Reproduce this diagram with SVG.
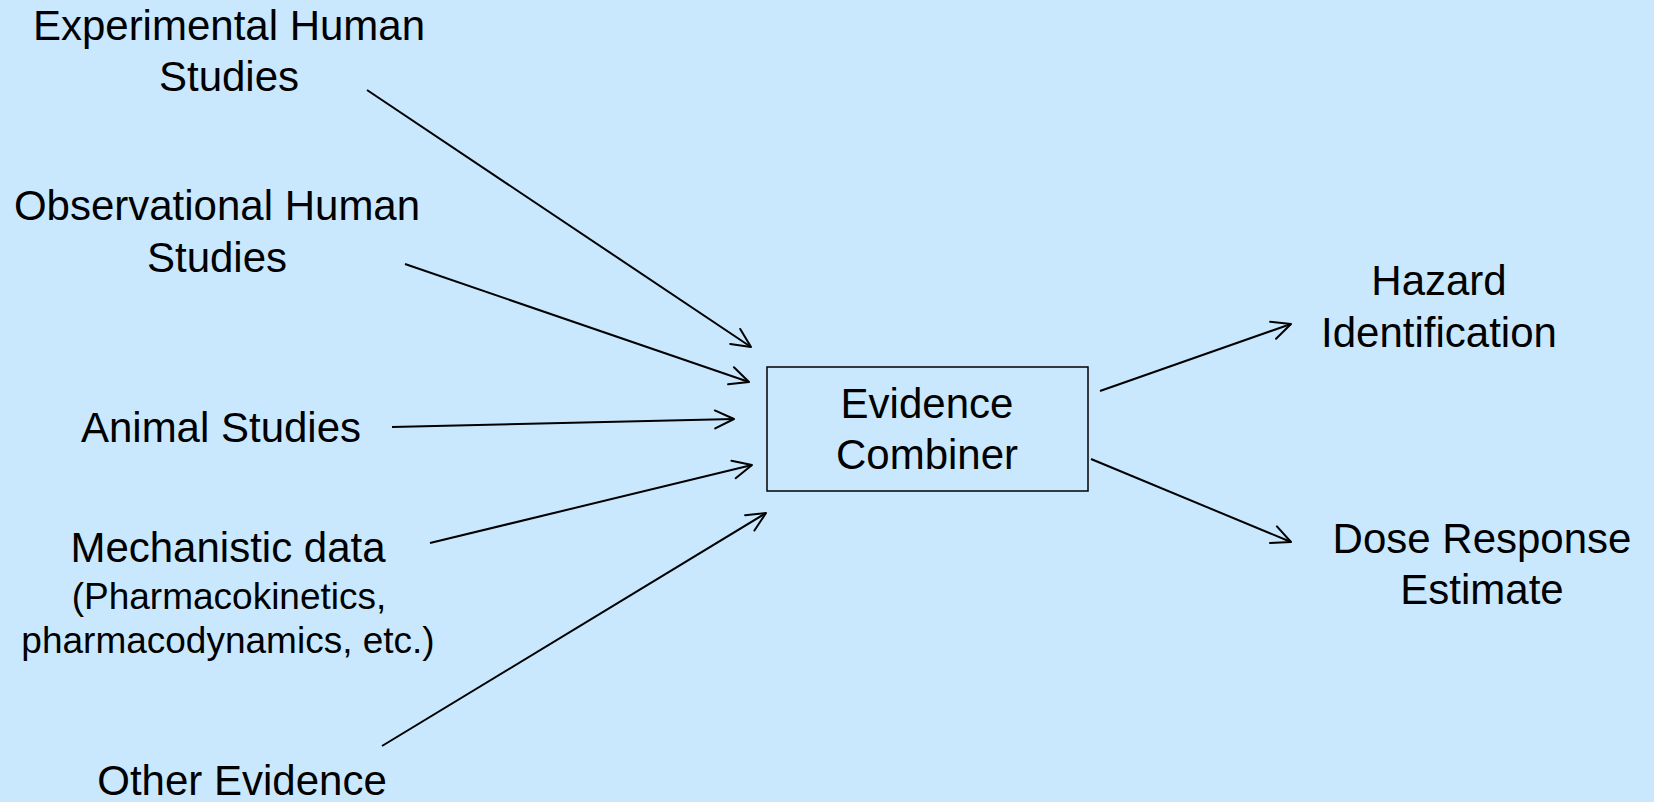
<svg xmlns="http://www.w3.org/2000/svg" width="1654" height="802" viewBox="0 0 1654 802">
<style>
text{font-family:"Liberation Sans",Arial,sans-serif;fill:#000;text-anchor:middle}
.t{font-size:42px}
.s{font-size:37px}
.c{stroke:#000;stroke-width:2;fill:none;marker-end:url(#ah)}
</style>
<defs>
<marker id="ah" markerUnits="userSpaceOnUse" viewBox="-22 -12 24 24" markerWidth="24" markerHeight="24" refX="0" refY="0" orient="auto" overflow="visible">
<path d="M-19,-9 L0,0 L-19,9" fill="none" stroke="#000" stroke-width="2" stroke-linecap="round" stroke-linejoin="round"/>
</marker>
</defs>
<rect x="0" y="0" width="1654" height="802" fill="#C9E8FE"/>
<g id="connectors">
<line class="c" x1="367" y1="90" x2="751" y2="347"/>
<line class="c" x1="405" y1="264" x2="749" y2="382"/>
<line class="c" x1="392" y1="427" x2="734" y2="419"/>
<line class="c" x1="430" y1="543" x2="752" y2="465"/>
<line class="c" x1="382" y1="746" x2="766" y2="513"/>
<line class="c" x1="1100" y1="391" x2="1291" y2="324"/>
<line class="c" x1="1091" y1="459" x2="1291" y2="542"/>
</g>
<g id="experimental">
<text class="t" x="229" y="40">Experimental Human</text>
<text class="t" x="229" y="91">Studies</text>
</g>
<g id="observational">
<text class="t" x="217" y="220">Observational Human</text>
<text class="t" x="217" y="272">Studies</text>
</g>
<g id="animal">
<text class="t" x="221" y="442">Animal Studies</text>
</g>
<g id="mechanistic">
<text class="t" x="228" y="562">Mechanistic data</text>
<text class="s" x="229" y="609">(Pharmacokinetics,</text>
<text class="s" x="228" y="653">pharmacodynamics, etc.)</text>
</g>
<g id="other">
<text class="t" x="242" y="795">Other Evidence</text>
</g>
<g id="combiner">
<rect x="767" y="367" width="321" height="124" fill="#C9E8FE" stroke="#000" stroke-width="1.5"/>
<text class="t" x="927" y="418">Evidence</text>
<text class="t" x="927" y="469">Combiner</text>
</g>
<g id="hazard">
<text class="t" x="1439" y="295">Hazard</text>
<text class="t" x="1439" y="347">Identification</text>
</g>
<g id="dose">
<text class="t" x="1482" y="553">Dose Response</text>
<text class="t" x="1482" y="604">Estimate</text>
</g>
</svg>
